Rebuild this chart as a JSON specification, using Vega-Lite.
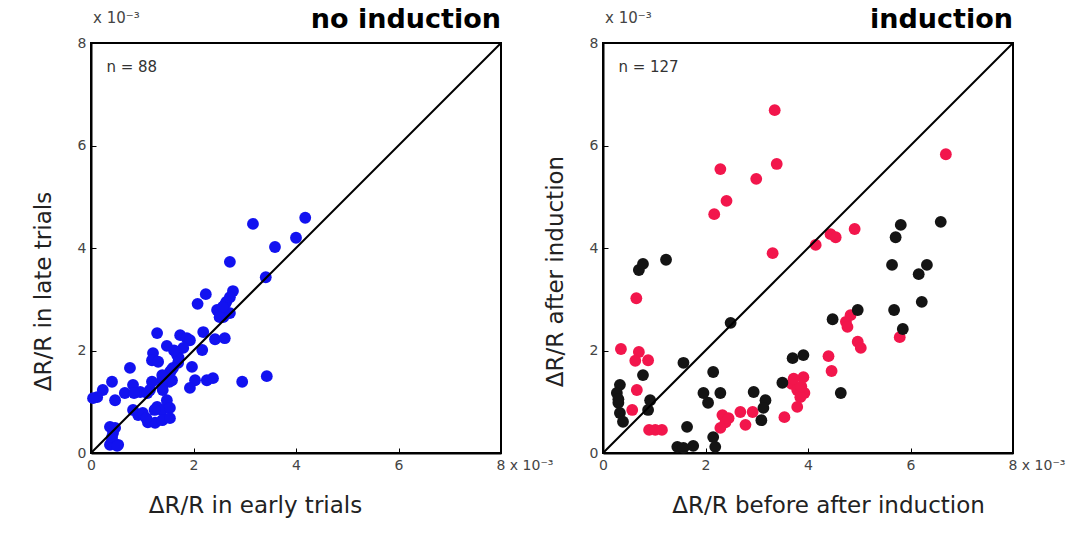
{
  "$schema": "https://vega.github.io/schema/vega-lite/v6.json",
  "background": "white",
  "padding": {"left": 31, "top": 5, "right": 5, "bottom": 5},
  "bounds": "flush",
  "spacing": 102,
  "config": {
    "view": {"stroke": "black", "strokeWidth": 2},
    "font": "DejaVu Sans",
    "axis": {"grid": false, "domainColor": "black", "domainWidth": 2, "tickColor": "black", "tickSize": -5, "labelPadding": 10, "labelColor": "#444", "labelFontSize": 14, "labelFont": "DejaVu Sans", "titleFont": "DejaVu Sans", "titleFontSize": 23, "titleFontWeight": "normal", "titleColor": "#222"},
    "title": {"font": "DejaVu Sans", "fontSize": 27, "fontWeight": "bold", "anchor": "end", "frame": "group", "color": "black", "offset": -23}
  },
  "datasets": {
    "left": [
      {"x":4.18,"y":4.59},{"x":3.16,"y":4.47},{"x":4.0,"y":4.2},{"x":3.59,"y":4.02},{"x":2.71,"y":3.73},{"x":3.41,"y":3.43},{"x":2.24,"y":3.10},{"x":2.08,"y":2.91},{"x":2.77,"y":3.16},{"x":2.71,"y":3.04},{"x":2.64,"y":2.95},
      {"x":2.46,"y":2.79},{"x":2.61,"y":2.89},{"x":2.58,"y":2.65},{"x":2.71,"y":2.73},{"x":1.29,"y":2.34},{"x":1.74,"y":2.30},{"x":1.87,"y":2.24},{"x":1.93,"y":2.20},{"x":2.19,"y":2.36},{"x":2.42,"y":2.22},{"x":2.61,"y":2.24},{"x":2.17,"y":2.01},{"x":1.48,"y":2.09},{"x":1.21,"y":1.95},{"x":1.19,"y":1.81},{"x":1.31,"y":1.78},{"x":1.68,"y":1.91},{"x":1.70,"y":1.76},{"x":1.60,"y":1.66},{"x":1.54,"y":1.58},{"x":1.97,"y":1.68},{"x":0.76,"y":1.66},{"x":1.46,"y":1.48},{"x":1.39,"y":1.42},{"x":1.58,"y":1.42},{"x":2.03,"y":1.42},{"x":2.26,"y":1.42},{"x":2.38,"y":1.46},{"x":2.95,"y":1.39},{"x":3.43,"y":1.50},{"x":0.41,"y":1.39},{"x":1.19,"y":1.39},{"x":0.82,"y":1.33},{"x":1.93,"y":1.27},{"x":0.66,"y":1.17},{"x":0.96,"y":1.19},{"x":1.15,"y":1.23},{"x":1.40,"y":1.23},{"x":1.48,"y":1.03},{"x":0.23,"y":1.23},{"x":0.12,"y":1.09},{"x":0.04,"y":1.07},{"x":0.47,"y":1.03},{"x":1.29,"y":0.90},{"x":1.39,"y":0.84},{"x":1.54,"y":0.88},{"x":0.82,"y":0.84},{"x":0.92,"y":0.74},{"x":1.01,"y":0.78},{"x":1.11,"y":0.60},{"x":1.25,"y":0.59},{"x":1.39,"y":0.64},{"x":1.54,"y":0.68},{"x":0.37,"y":0.51},{"x":0.47,"y":0.49},{"x":0.43,"y":0.39},{"x":0.41,"y":0.25},{"x":0.53,"y":0.16},{"x":0.37,"y":0.16},
      {"x":2.51,"y":2.65},{"x":1.57,"y":1.62},{"x":1.39,"y":1.52},{"x":1.53,"y":1.39},{"x":1.39,"y":1.29},{"x":0.84,"y":1.17},{"x":1.10,"y":1.17},{"x":1.24,"y":0.84},{"x":1.08,"y":0.68},{"x":0.41,"y":0.31},{"x":0.51,"y":0.14},{"x":1.71,"y":1.86},{"x":2.57,"y":2.85},{"x":1.80,"y":2.05},{"x":1.62,"y":2.00}
    ],
    "right": [
      {"x":3.35,"y":6.69,"g":"red"},{"x":3.39,"y":5.64,"g":"red"},{"x":2.29,"y":5.54,"g":"red"},{"x":2.99,"y":5.35,"g":"red"},{"x":2.41,"y":4.92,"g":"red"},{"x":2.17,"y":4.66,"g":"red"},{"x":3.31,"y":3.90,"g":"red"},{"x":0.65,"y":3.02,"g":"red"},{"x":4.15,"y":4.06,"g":"red"},{"x":4.44,"y":4.27,"g":"red"},{"x":4.54,"y":4.21,"g":"red"},{"x":4.91,"y":4.37,"g":"red"},{"x":6.69,"y":5.83,"g":"red"},{"x":0.35,"y":2.03,"g":"red"},{"x":0.70,"y":1.97,"g":"red"},{"x":0.63,"y":1.80,"g":"red"},{"x":0.88,"y":1.81,"g":"red"},{"x":0.66,"y":1.23,"g":"red"},{"x":0.57,"y":0.84,"g":"red"},{"x":0.90,"y":0.45,"g":"red"},{"x":1.15,"y":0.45,"g":"red"},{"x":4.40,"y":1.89,"g":"red"},{"x":4.46,"y":1.60,"g":"red"},{"x":3.68,"y":1.35,"g":"red"},{"x":3.79,"y":1.23,"g":"red"},{"x":3.91,"y":1.48,"g":"red"},{"x":3.93,"y":1.17,"g":"red"},{"x":3.85,"y":1.09,"g":"red"},{"x":3.79,"y":0.90,"g":"red"},{"x":3.54,"y":0.70,"g":"red"},{"x":2.33,"y":0.74,"g":"red"},{"x":2.39,"y":0.60,"g":"red"},{"x":2.29,"y":0.49,"g":"red"},{"x":2.68,"y":0.80,"g":"red"},{"x":2.92,"y":0.80,"g":"red"},{"x":2.78,"y":0.55,"g":"red"},{"x":5.79,"y":2.26,"g":"red"},{"x":4.74,"y":2.56,"g":"red"},{"x":4.83,"y":2.69,"g":"red"},{"x":4.77,"y":2.46,"g":"red"},{"x":4.97,"y":2.17,"g":"red"},{"x":5.03,"y":2.05,"g":"red"},{"x":3.72,"y":1.45,"g":"red"},{"x":3.87,"y":1.30,"g":"red"},{"x":2.45,"y":0.68,"g":"red"},{"x":1.02,"y":0.45,"g":"red"},
      {"x":0.70,"y":3.57,"g":"black"},{"x":0.78,"y":3.69,"g":"black"},{"x":1.23,"y":3.77,"g":"black"},{"x":2.49,"y":2.54,"g":"black"},{"x":1.57,"y":1.76,"g":"black"},{"x":2.15,"y":1.58,"g":"black"},{"x":0.78,"y":1.52,"g":"black"},{"x":0.33,"y":1.33,"g":"black"},{"x":0.27,"y":1.17,"g":"black"},{"x":0.30,"y":0.98,"g":"black"},{"x":0.33,"y":0.78,"g":"black"},{"x":0.39,"y":0.61,"g":"black"},{"x":0.92,"y":1.03,"g":"black"},{"x":0.88,"y":0.84,"g":"black"},{"x":1.96,"y":1.17,"g":"black"},{"x":2.05,"y":0.98,"g":"black"},{"x":2.29,"y":1.17,"g":"black"},{"x":1.64,"y":0.51,"g":"black"},{"x":1.45,"y":0.12,"g":"black"},{"x":1.57,"y":0.10,"g":"black"},{"x":1.76,"y":0.14,"g":"black"},{"x":2.15,"y":0.31,"g":"black"},{"x":2.19,"y":0.12,"g":"black"},{"x":2.94,"y":1.19,"g":"black"},{"x":3.17,"y":1.03,"g":"black"},{"x":3.13,"y":0.88,"g":"black"},{"x":3.09,"y":0.64,"g":"black"},{"x":3.70,"y":1.85,"g":"black"},{"x":3.91,"y":1.91,"g":"black"},{"x":3.50,"y":1.37,"g":"black"},{"x":4.48,"y":2.61,"g":"black"},{"x":4.64,"y":1.17,"g":"black"},{"x":5.81,"y":4.45,"g":"black"},{"x":5.71,"y":4.21,"g":"black"},{"x":6.59,"y":4.51,"g":"black"},{"x":5.64,"y":3.67,"g":"black"},{"x":6.32,"y":3.67,"g":"black"},{"x":6.16,"y":3.49,"g":"black"},{"x":6.22,"y":2.95,"g":"black"},{"x":5.68,"y":2.79,"g":"black"},{"x":5.85,"y":2.42,"g":"black"},{"x":4.97,"y":2.79,"g":"black"},{"x":0.30,"y":1.05,"g":"black"}
    ]
  },
  "hconcat": [
    {
      "width": 410, "height": 410,
      "title": {"text": "no induction"},
      "layer": [
        {
          "data": {"name": "left"},
          "mark": {"type": "circle", "size": 140, "opacity": 1, "color": "#1212f0"},
          "encoding": {
            "x": {"field": "x", "type": "quantitative", "scale": {"domain": [0, 8], "nice": false}, "axis": {"values": [0, 2, 4, 6, 8], "title": "ΔR/R  in early trials", "titlePadding": 22, "titleX": 164, "labelExpr": "datum.value == 8 ? '8 x 10⁻³' : datum.label", "labelAlign": {"condition": {"test": "datum.value == 8", "value": "left"}, "value": "center"}, "labelOffset": {"condition": {"test": "datum.value == 8", "value": -5}, "value": 0}}},
            "y": {"field": "y", "type": "quantitative", "scale": {"domain": [0, 8], "nice": false}, "axis": {"values": [0, 2, 4, 6, 8], "title": "ΔR/R  in late trials", "titlePadding": 22, "titleY": 248}}
          }
        },
        {
          "data": {"values": [{"x": 0, "y": 0, "x2": 8, "y2": 8}]},
          "mark": {"type": "rule", "color": "black", "strokeWidth": 2},
          "encoding": {"x": {"field": "x", "type": "quantitative"}, "y": {"field": "y", "type": "quantitative"}, "x2": {"field": "x2"}, "y2": {"field": "y2"}}
        },
        {
          "data": {"values": [{"x": 0.3, "y": 7.53, "t": "n = 88"}]},
          "mark": {"type": "text", "align": "left", "baseline": "middle", "fontSize": 15, "color": "#333"},
          "encoding": {"x": {"field": "x", "type": "quantitative"}, "y": {"field": "y", "type": "quantitative"}, "text": {"field": "t"}}
        },
        {
          "data": {"values": [{"x": 0, "y": 8, "t": "x 10⁻³"}]},
          "mark": {"type": "text", "align": "left", "baseline": "middle", "fontSize": 15, "color": "#444", "dx": 2, "dy": -25},
          "encoding": {"x": {"field": "x", "type": "quantitative"}, "y": {"field": "y", "type": "quantitative"}, "text": {"field": "t"}}
        }
      ]
    },
    {
      "width": 410, "height": 410,
      "title": {"text": "induction"},
      "layer": [
        {
          "data": {"name": "right"},
          "mark": {"type": "circle", "size": 140, "opacity": 1},
          "encoding": {
            "x": {"field": "x", "type": "quantitative", "scale": {"domain": [0, 8], "nice": false}, "axis": {"values": [0, 2, 4, 6, 8], "title": "ΔR/R  before after induction", "titlePadding": 22, "titleX": 225, "labelExpr": "datum.value == 8 ? '8 x 10⁻³' : datum.label", "labelAlign": {"condition": {"test": "datum.value == 8", "value": "left"}, "value": "center"}, "labelOffset": {"condition": {"test": "datum.value == 8", "value": -5}, "value": 0}}},
            "y": {"field": "y", "type": "quantitative", "scale": {"domain": [0, 8], "nice": false}, "axis": {"values": [0, 2, 4, 6, 8], "title": "ΔR/R  after induction", "titlePadding": 22, "titleY": 228}},
            "color": {"field": "g", "type": "nominal", "scale": {"domain": ["red", "black"], "range": ["#f2164c", "#141414"]}, "legend": null}
          }
        },
        {
          "data": {"values": [{"x": 0, "y": 0, "x2": 8, "y2": 8}]},
          "mark": {"type": "rule", "color": "black", "strokeWidth": 2},
          "encoding": {"x": {"field": "x", "type": "quantitative"}, "y": {"field": "y", "type": "quantitative"}, "x2": {"field": "x2"}, "y2": {"field": "y2"}}
        },
        {
          "data": {"values": [{"x": 0.3, "y": 7.53, "t": "n = 127"}]},
          "mark": {"type": "text", "align": "left", "baseline": "middle", "fontSize": 15, "color": "#333"},
          "encoding": {"x": {"field": "x", "type": "quantitative"}, "y": {"field": "y", "type": "quantitative"}, "text": {"field": "t"}}
        },
        {
          "data": {"values": [{"x": 0, "y": 8, "t": "x 10⁻³"}]},
          "mark": {"type": "text", "align": "left", "baseline": "middle", "fontSize": 15, "color": "#444", "dx": 2, "dy": -25},
          "encoding": {"x": {"field": "x", "type": "quantitative"}, "y": {"field": "y", "type": "quantitative"}, "text": {"field": "t"}}
        }
      ]
    }
  ]
}
